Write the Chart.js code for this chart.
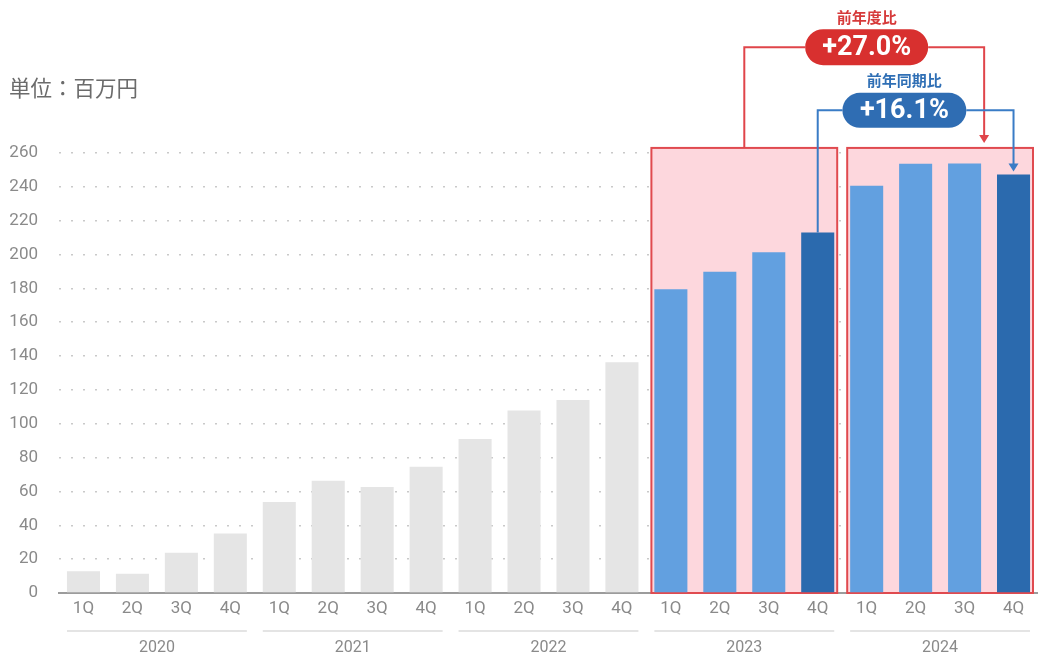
<!DOCTYPE html>
<html lang="ja">
<head>
<meta charset="utf-8">
<title>売上推移</title>
<script src="https://cdn.jsdelivr.net/npm/chart.js@4.4.1/dist/chart.umd.min.js"></script>
<style>
  html, body { margin: 0; padding: 0; background: #ffffff; }
  #wrap { position: relative; width: 1038px; height: 657px; }
</style>
</head>
<body>
<div id="wrap"><canvas id="chart" width="1038" height="657"></canvas></div>
<script>
// 四半期売上（単位：百万円）
const years = ['2020', '2021', '2022', '2023', '2024'];
const quarters = ['1Q', '2Q', '3Q', '4Q'];
const sales2020 = [12.8, 11.4, 23.8, 35.1];
const sales2021 = [53.8, 66.4, 62.7, 74.6];
const sales2022 = [91.0, 107.9, 114.0, 136.3];
const sales2023 = [179.5, 189.8, 201.4, 213.0];
const sales2024 = [240.7, 253.7, 253.8, 247.3];
const yTicks = [0, 20, 40, 60, 80, 100, 120, 140, 160, 180, 200, 220, 240, 260];
const unitLabel = '単位：百万円';
const yoyAnnualLabel = '前年度比';
const yoyAnnualValue = '+27.0%';
const yoyQuarterLabel = '前年同期比';
const yoyQuarterValue = '+16.1%';
const highlightYears = ['2023', '2024'];

const allSales = [sales2020, sales2021, sales2022, sales2023, sales2024];
const labels = [];
const values = [];
const colors = [];
years.forEach((y, yi) => {
  quarters.forEach((q, qi) => {
    labels.push([q, y]);
    values.push(allSales[yi][qi]);
    if (highlightYears.includes(y)) {
      colors.push(qi === 3 ? '#2b6aae' : '#62a0e0');
    } else {
      colors.push('#e5e5e5');
    }
  });
});

const NUM_FONT = 'Roboto, "DejaVu Sans", sans-serif';
const JP_FONT = '"Noto Sans CJK JP", "Noto Sans", sans-serif';

function roundRect(ctx, x, y, w, h, r) {
  ctx.beginPath();
  ctx.moveTo(x + r, y);
  ctx.lineTo(x + w - r, y);
  ctx.arc(x + w - r, y + r, r, -Math.PI / 2, Math.PI / 2);
  ctx.lineTo(x + r, y + h);
  ctx.arc(x + r, y + r, r, Math.PI / 2, Math.PI * 1.5);
  ctx.closePath();
}

// 強調する年度の背景枠
const highlightPlugin = {
  id: 'highlightBoxes',
  beforeDatasetsDraw(chart) {
    const { ctx, scales: { x, y } } = chart;
    const step = x.getPixelForValue(1) - x.getPixelForValue(0);
    ctx.save();
    highlightYears.forEach(yr => {
      const yi = years.indexOf(yr);
      const left = x.getPixelForValue(yi * 4) - step / 2 + 5;
      const right = x.getPixelForValue(yi * 4 + 3) + step / 2 - 5;
      const top = y.getPixelForValue(263);
      const bottom = y.getPixelForValue(0);
      ctx.fillStyle = '#fdd7dd';
      ctx.fillRect(left, top, right - left, bottom - top);
      ctx.strokeStyle = '#e04a4f';
      ctx.lineWidth = 2;
      ctx.strokeRect(left, top, right - left, bottom - top);
    });
    ctx.restore();
  }
};

// 年ラベル・単位・増減率の注記
const annotationPlugin = {
  id: 'annotations',
  afterDraw(chart) {
    const { ctx, scales: { x, y } } = chart;
    ctx.save();

    // 年ラベルと下線
    years.forEach((yr, yi) => {
      const c1 = x.getPixelForValue(yi * 4);
      const c4 = x.getPixelForValue(yi * 4 + 3);
      ctx.strokeStyle = '#e4e4e4';
      ctx.lineWidth = 2;
      ctx.beginPath();
      ctx.moveTo(c1 - 16.5, 631);
      ctx.lineTo(c4 + 16.5, 631);
      ctx.stroke();
      ctx.fillStyle = '#8a8a8a';
      ctx.font = '16px ' + NUM_FONT;
      ctx.textAlign = 'center';
      ctx.textBaseline = 'middle';
      ctx.fillText(yr, (c1 + c4) / 2, 648);
    });

    // 単位
    ctx.fillStyle = '#6b6b6b';
    ctx.font = '21.5px ' + JP_FONT;
    ctx.textAlign = 'left';
    ctx.textBaseline = 'middle';
    ctx.fillText(unitLabel, 9, 88);

    const i23 = years.indexOf('2023') * 4;
    const i24 = years.indexOf('2024') * 4;

    // 前年度比（赤）
    const red = '#e0454a';
    const redPill = '#d8302f';
    const boxTop = y.getPixelForValue(263);
    const box23Mid = (x.getPixelForValue(i23) + x.getPixelForValue(i23 + 3)) / 2;
    const box24ArrowX = x.getPixelForValue(i24 + 2.4);
    const redPillCx = x.getPixelForValue(i24);
    const redLineY = y.getPixelForValue(322.5);
    const redPillW = 123, redPillH = 36;
    ctx.strokeStyle = red;
    ctx.lineWidth = 2;
    ctx.beginPath();
    ctx.moveTo(box23Mid, boxTop);
    ctx.lineTo(box23Mid, redLineY);
    ctx.lineTo(redPillCx - redPillW / 2, redLineY);
    ctx.moveTo(redPillCx + redPillW / 2, redLineY);
    ctx.lineTo(box24ArrowX, redLineY);
    ctx.lineTo(box24ArrowX, boxTop - 12);
    ctx.stroke();
    ctx.fillStyle = red;
    ctx.beginPath();
    ctx.moveTo(box24ArrowX - 5, boxTop - 13);
    ctx.lineTo(box24ArrowX + 5, boxTop - 13);
    ctx.lineTo(box24ArrowX, boxTop - 5);
    ctx.closePath();
    ctx.fill();

    ctx.fillStyle = redPill;
    roundRect(ctx, redPillCx - redPillW / 2, redLineY - redPillH / 2, redPillW, redPillH, redPillH / 2);
    ctx.fill();
    ctx.fillStyle = '#ffffff';
    ctx.font = 'bold 27px ' + NUM_FONT;
    ctx.textAlign = 'center';
    ctx.textBaseline = 'middle';
    ctx.fillText(yoyAnnualValue, redPillCx, redLineY + 1);
    ctx.fillStyle = '#d63a3a';
    ctx.font = 'bold 15px ' + JP_FONT;
    ctx.fillText(yoyAnnualLabel, redPillCx, 17);

    // 前年同期比（青）
    const blueLine = '#3a7cc6';
    const bluePill = '#2f6db3';
    const q23x = x.getPixelForValue(i23 + 3);
    const q24x = x.getPixelForValue(i24 + 3);
    const blueLineY = y.getPixelForValue(285.2);
    const bluePillCx = x.getPixelForValue(i24 + 0.77);
    const bluePillW = 124, bluePillH = 35;
    const top23 = y.getPixelForValue(sales2023[3]);
    const top24 = y.getPixelForValue(sales2024[3]);
    ctx.strokeStyle = blueLine;
    ctx.lineWidth = 2;
    ctx.beginPath();
    ctx.moveTo(q23x, top23);
    ctx.lineTo(q23x, blueLineY);
    ctx.lineTo(bluePillCx - bluePillW / 2, blueLineY);
    ctx.moveTo(bluePillCx + bluePillW / 2, blueLineY);
    ctx.lineTo(q24x, blueLineY);
    ctx.lineTo(q24x, top24 - 10);
    ctx.stroke();
    ctx.fillStyle = blueLine;
    ctx.beginPath();
    ctx.moveTo(q24x - 5, top24 - 11);
    ctx.lineTo(q24x + 5, top24 - 11);
    ctx.lineTo(q24x, top24 - 3);
    ctx.closePath();
    ctx.fill();

    ctx.fillStyle = bluePill;
    roundRect(ctx, bluePillCx - bluePillW / 2, blueLineY - bluePillH / 2, bluePillW, bluePillH, bluePillH / 2);
    ctx.fill();
    ctx.fillStyle = '#ffffff';
    ctx.font = 'bold 27px ' + NUM_FONT;
    ctx.textAlign = 'center';
    ctx.textBaseline = 'middle';
    ctx.fillText(yoyQuarterValue, bluePillCx, blueLineY + 1);
    ctx.fillStyle = '#2f6fb5';
    ctx.font = 'bold 15px ' + JP_FONT;
    ctx.fillText(yoyQuarterLabel, bluePillCx, 80);

    ctx.restore();
  }
};

new Chart(document.getElementById('chart'), {
  type: 'bar',
  data: {
    labels: labels,
    datasets: [{
      data: values,
      backgroundColor: colors,
      borderWidth: 0,
      barPercentage: 0.675,
      categoryPercentage: 1.0
    }]
  },
  options: {
    responsive: false,
    animation: false,
    layout: { padding: { top: 153, right: 0, left: 0, bottom: 0 } },
    plugins: {
      legend: { display: false },
      tooltip: { enabled: false },
      title: { display: false }
    },
    scales: {
      x: {
        afterFit(scale) { scale.height = 64; },
        grid: { display: false, drawTicks: false },
        border: { display: true, color: '#9c9c9c', width: 2 },
        ticks: {
          padding: 6,
          color: '#8a8a8a',
          font: { family: NUM_FONT, size: 17 },
          maxRotation: 0,
          autoSkip: false,
          callback(value) { return labels[value][0]; }
        }
      },
      y: {
        min: 0,
        max: 260,
        afterFit(scale) { scale.width = 59; },
        afterBuildTicks(scale) { scale.ticks = yTicks.map(v => ({ value: v })); },
        border: { display: false, dash: [2, 10] },
        grid: {
          drawTicks: false,
          color: (ctx) => ctx.tick && ctx.tick.value === 0 ? 'rgba(0,0,0,0)' : '#c9c9c9',
          lineWidth: 1.6
        },
        ticks: {
          padding: 21,
          color: '#8a8a8a',
          font: { family: NUM_FONT, size: 17 }
        }
      }
    }
  },
  plugins: [highlightPlugin, annotationPlugin]
});
</script>
</body>
</html>
